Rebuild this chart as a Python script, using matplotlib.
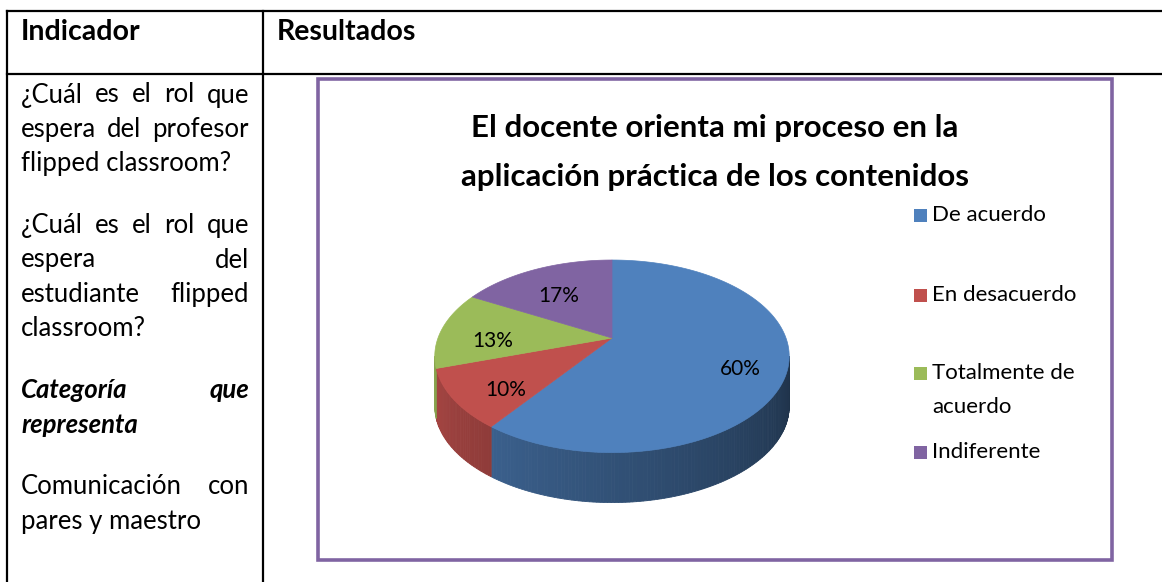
import numpy as np
import matplotlib
matplotlib.use("Agg")
import matplotlib.pyplot as plt
from matplotlib.patches import Polygon, Rectangle

# data
labels = ["De acuerdo", "En desacuerdo", "Totalmente de\nacuerdo", "Indiferente"]
values = [60, 10, 13, 17]
colors = ["#4F81BD", "#C0504D", "#9BBB59", "#8064A2"]
title = "El docente orienta mi proceso en la\naplicación práctica de los contenidos"

header = ["Indicador", "Resultados"]
left_lines = [
    ("¿Cuál es el rol que", True, "normal"),
    ("espera del profesor", True, "normal"),
    ("flipped classroom?", False, "normal"),
    None,
    ("¿Cuál es el rol que", True, "normal"),
    ("espera del", True, "normal"),
    ("estudiante flipped", True, "normal"),
    ("classroom?", False, "normal"),
    None,
    ("Categoría que", True, "bolditalic"),
    ("representa", False, "bolditalic"),
    None,
    ("Comunicación con", True, "normal"),
    ("pares y maestro", False, "normal"),
]

W, H = 1162, 582
fig = plt.figure(figsize=(W / 100, H / 100), dpi=100)
ax = fig.add_axes([0, 0, 1, 1])
ax.set_xlim(0, W)
ax.set_ylim(H, 0)
ax.axis("off")

FONT = "Lato"

# table lines
lw = 1.6
ax.plot([7, W], [11, 11], color="black", lw=lw)
ax.plot([7, W], [74, 74], color="black", lw=lw)
ax.plot([7, 7], [11, H], color="black", lw=lw)
ax.plot([263, 263], [11, H], color="black", lw=lw)

ax.text(21, 32, header[0], fontsize=20.5, fontweight="bold", family=FONT, va="center")
ax.text(277, 32, header[1], fontsize=20.5, fontweight="bold", family=FONT, va="center")

fig.canvas.draw()
renderer = fig.canvas.get_renderer()


def justify(line, y, x0=21, x1=249, fs=18.5):
    text, just, style = line
    kw = dict(fontsize=fs, family=FONT, va="center")
    if "bold" in style:
        kw["fontweight"] = "bold"
    if "italic" in style:
        kw["fontstyle"] = "italic"
    words = text.split(" ")
    if not just or len(words) == 1:
        ax.text(x0, y, text, **kw)
        return
    ts = [ax.text(0, y, w, **kw) for w in words]
    ws = [t.get_window_extent(renderer).width for t in ts]
    gap = (x1 - x0 - sum(ws)) / (len(words) - 1)
    x = x0
    for t, w in zip(ts, ws):
        t.set_x(x)
        x += w + gap


y = 95
line_y = []
for ln in left_lines:
    if ln is None:
        y += 27
        continue
    justify(ln, y)
    y += 34.5

# chart box
ax.add_patch(Rectangle((318, 79), 794, 481, fill=False, edgecolor="#8064A2", lw=2.6))
ax.text(715, 128, title.split("\n")[0], ha="center", va="center", fontsize=22.5,
        family=FONT, fontweight="bold")
ax.text(715, 177, title.split("\n")[1], ha="center", va="center", fontsize=22.5,
        family=FONT, fontweight="bold")

# 3D pie with perspective
cx, cy, R, Ry, p, depth = 612, 338, 174, 92.8, 0.19, 50


def proj(theta, r=1.0):
    X = r * np.sin(theta)
    Z = r * np.cos(theta)
    w = 1 + p * Z
    return cx + R * X / w, cy - Ry * Z / w


def rgb(c):
    return np.array(matplotlib.colors.to_rgb(c))


frac = np.array(values) / sum(values)
starts = np.concatenate([[0], np.cumsum(frac)[:-1]]) * 2 * np.pi
ends = np.cumsum(frac) * 2 * np.pi
th_lo, th_hi = np.arccos(-p), 2 * np.pi - np.arccos(-p)

# side walls
for s, e, c in zip(starts, ends, colors):
    a, b = max(s, th_lo), min(e, th_hi)
    if a >= b:
        continue
    ts = np.linspace(a, b, max(int((b - a) * 60), 2))
    for t0, t1 in zip(ts[:-1], ts[1:]):
        x0, y0 = proj(t0)
        x1, y1 = proj(t1)
        tm = 0.5 * (t0 + t1)
        shade = 0.38 + (tm - th_lo) / (th_hi - th_lo) * 0.5
        col = np.clip(rgb(c) * shade, 0, 1)
        ax.add_patch(Polygon([[x0, y0], [x1, y1], [x1, y1 + depth], [x0, y0 + depth]],
                             closed=True, facecolor=col, edgecolor=col, lw=0.6))

# top faces
for s, e, c in zip(starts, ends, colors):
    ts = np.linspace(s, e, 120)
    pts = [[cx, cy]] + [list(proj(t)) for t in ts]
    ax.add_patch(Polygon(pts, closed=True, facecolor=c, edgecolor=c, lw=0.5))

for s, e, v in zip(starts, ends, values):
    lx, ly = proj(0.5 * (s + e), 0.72)
    ax.text(lx + 4, ly + 9, f"{v}%", ha="center", va="center", fontsize=15, family=FONT)

# legend
leg_y = [215, 295, 373, 452]
for yy, lab, c in zip(leg_y, labels, colors):
    ax.add_patch(Rectangle((914, yy - 6.5), 13, 13, facecolor=c, edgecolor="none"))
    parts = lab.split("\n")
    ax.text(932, yy, parts[0], ha="left", va="center", fontsize=16, family=FONT)
    if len(parts) > 1:
        ax.text(932, yy + 34, parts[1], ha="left", va="center", fontsize=16, family=FONT)

fig.savefig("out.png", dpi=100)
